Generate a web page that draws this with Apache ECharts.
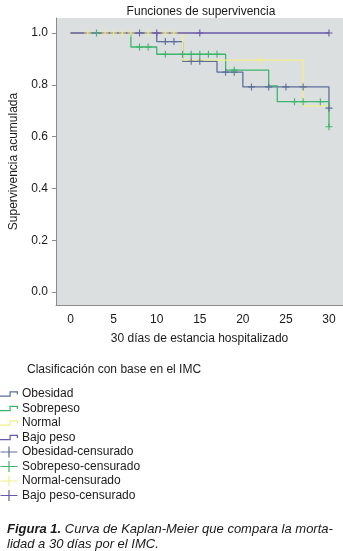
<!DOCTYPE html>
<html>
<head>
<meta charset="utf-8">
<script src="https://cdn.jsdelivr.net/npm/echarts/dist/echarts.min.js"></script>
<style>
  html, body { margin: 0; padding: 0; background: #fff; }
  #chart { width: 343px; height: 551px; }
</style>
</head>
<body>
<div id="chart"></div>
<script>
// Kaplan-Meier, mortalidad a 30 dias por IMC
var groups = ['Obesidad', 'Sobrepeso', 'Normal', 'Bajo peso'];
var colors = ['#5b6f9a', '#3db56c', '#efef8a', '#6a58a8'];

// escalones: tiempo del evento y supervivencia despues del evento
var obesidadT = [0, 10, 13, 17, 20, 30];
var obesidadS = [1, 0.967, 0.891, 0.849, 0.792, 0.71];
var sobrepesoT = [0, 7, 10, 18, 23, 24, 30];
var sobrepesoS = [1, 0.946, 0.918, 0.857, 0.796, 0.735, 0.638];
var normalT = [0, 13, 27, 30];
var normalS = [1, 0.895, 0.719, 0.719];
var bajoT = [0, 30];
var bajoS = [1, 1];

// casos censurados
var obesidadCensT = [8, 11, 12, 14, 15, 18, 19, 21, 23, 25, 27, 30];
var obesidadCensS = [1, 0.967, 0.967, 0.891, 0.891, 0.849, 0.849, 0.792, 0.792, 0.792, 0.792, 0.71];
var sobrepesoCensT = [3, 8, 9, 11, 13, 14, 15, 16, 17, 19, 26, 27, 29, 30];
var sobrepesoCensS = [1, 0.946, 0.946, 0.918, 0.918, 0.918, 0.918, 0.918, 0.918, 0.857, 0.735, 0.735, 0.735, 0.638];
var normalCensT = [2, 4, 5, 6, 7, 9, 11, 12, 22];
var normalCensS = [1, 1, 1, 1, 1, 1, 1, 1, 0.895];
var bajoCensT = [10, 15, 30];
var bajoCensS = [1, 1, 1];

var xTicks = [0, 5, 10, 15, 20, 25, 30];
var yTicks = [0, 0.2, 0.4, 0.6, 0.8, 1.0];

var FONT = "'Liberation Sans', Arial, sans-serif";
var stepIcon = 'path://M0,4.7H11.3V6H0Z M10,0H11.3V6H10Z M10,0H19V1.3H10Z M17.7,0H19V3.5H17.7Z';
var plusIcon = 'path://M0,4.9H17V6.1H0Z M7.9,0H9.1V11H7.9Z';
var plusMark = 'path://M0,4.2H10V5.8H0Z M4.2,0H5.8V10H4.2Z';

function zip(a, b) {
    var out = [];
    for (var i = 0; i < a.length; i++) out.push([a[i], b[i]]);
    return out;
}

var curves = [zip(obesidadT, obesidadS), zip(sobrepesoT, sobrepesoS), zip(normalT, normalS), zip(bajoT, bajoS)];
var censored = [zip(obesidadCensT, obesidadCensS), zip(sobrepesoCensT, sobrepesoCensS),
                zip(normalCensT, normalCensS), zip(bajoCensT, bajoCensS)];

var series = [];
var legendData = [];
for (var i = 0; i < groups.length; i++) {
    series.push({
        name: groups[i],
        type: 'line',
        step: 'end',
        showSymbol: false,
        symbol: 'none',
        data: curves[i],
        color: colors[i],
        lineStyle: { width: 1.3, color: colors[i] },
        z: 2 + i
    });
    legendData.push({ name: groups[i], icon: stepIcon });
}
for (var j = 0; j < groups.length; j++) {
    series.push({
        name: groups[j] + '-censurado',
        type: 'scatter',
        symbol: plusMark,
        symbolSize: 7,
        data: censored[j],
        color: colors[j],
        itemStyle: { color: colors[j], opacity: 1 },
        z: 10 + j
    });
    legendData.push({ name: groups[j] + '-censurado', icon: plusIcon });
}

var chart = echarts.init(document.getElementById('chart'), null, { renderer: 'canvas' });
chart.setOption({
    animation: false,
    backgroundColor: '#ffffff',
    textStyle: { fontFamily: FONT },
    title: [
        { text: 'Funciones de supervivencia', left: 196, textAlign: 'center', top: 1,
          textStyle: { fontSize: 12, fontWeight: 'normal', color: '#1a1a1a', fontFamily: FONT } },
        { text: 'Clasificación con base en el IMC', left: 22, top: 359,
          textStyle: { fontSize: 12, fontWeight: 'normal', color: '#1a1a1a', fontFamily: FONT } },
        { text: '{b|Figura 1.} {i|Curva de Kaplan-Meier que compara la morta-}\n{i|lidad a 30 días por el IMC.}',
          left: 2, top: 517,
          textStyle: {
              fontSize: 13, fontWeight: 'normal', color: '#1a1a1a', fontFamily: FONT, lineHeight: 15,
              rich: {
                  b: { fontSize: 13, fontWeight: 'bold', fontStyle: 'italic', color: '#1a1a1a', fontFamily: FONT, lineHeight: 15 },
                  i: { fontSize: 13, fontWeight: 'normal', fontStyle: 'italic', color: '#1a1a1a', fontFamily: FONT, lineHeight: 15 }
              }
          } }
    ],
    legend: {
        orient: 'vertical',
        left: 0,
        top: 388,
        itemWidth: 18,
        itemHeight: 11,
        itemGap: 2.5,
        padding: 0,
        symbolKeepAspect: true,
        itemStyle: { borderWidth: 0 },
        textStyle: { fontSize: 12, color: '#1a1a1a', fontFamily: FONT, padding: [0, 0, 0, -1] },
        data: legendData
    },
    grid: {
        left: 53, right: 0, top: 18, bottom: 246,
        show: true, backgroundColor: '#dcdfe0', borderWidth: 0
    },
    xAxis: {
        type: 'value',
        min: -1.7, max: 31.63,
        name: '30 días de estancia hospitalizado',
        nameLocation: 'middle',
        nameGap: 28,
        nameTextStyle: { fontSize: 12, color: '#1a1a1a', fontFamily: FONT },
        axisLine: { onZero: false, lineStyle: { color: '#8a8a8a', width: 1 } },
        axisTick: { show: false },
        axisLabel: { customValues: xTicks, fontSize: 12, color: '#1a1a1a', margin: 9,
                     formatter: function (v) { return String(v); } },
        splitLine: { show: false }
    },
    yAxis: {
        type: 'value',
        min: -0.05, max: 1.058,
        name: 'Supervivencia acumulada',
        nameLocation: 'middle',
        nameGap: 36,
        nameTextStyle: { fontSize: 12, color: '#1a1a1a', fontFamily: FONT },
        axisLine: { show: true, onZero: false, lineStyle: { color: '#8a8a8a', width: 1 } },
        axisTick: { show: true, customValues: yTicks, length: 4, lineStyle: { color: '#8a8a8a' } },
        axisLabel: { customValues: yTicks, fontSize: 12, color: '#1a1a1a', margin: 8,
                     formatter: function (v) { return v.toFixed(1); } },
        splitLine: { show: false }
    },
    series: series
});
</script>
</body>
</html>
